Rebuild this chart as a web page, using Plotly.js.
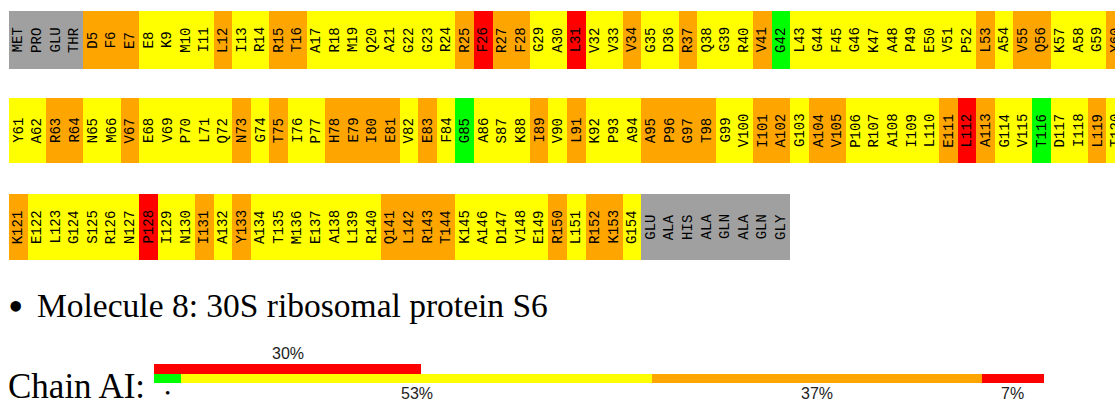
<!DOCTYPE html>
<html><head><meta charset="utf-8">
<script src="https://cdn.plot.ly/plotly-3.0.1.min.js"></script>
<style>html,body{margin:0;padding:0;background:#fff;overflow:hidden;width:1115px;height:409px}#chart{width:1140px;height:409px}</style>
</head><body><div id="chart"></div>
<script>
// ---- data ----
const row1Labels = ['MET','PRO','GLU','THR','D5','F6','E7','E8','K9','M10','I11','L12','I13','R14','R15','T16','A17','R18','M19','Q20','A21','G22','G23','R24','R25','F26','R27','F28','G29','A30','L31','V32','V33','V34','G35','D36','R37','Q38','G39','R40','V41','G42','L43','G44','F45','G46','K47','A48','P49','E50','V51','P52','L53','A54','V55','Q56','K57','A58','G59','Y60'];
const row1Quality = ['n','n','n','n','o','o','o','y','y','y','y','o','y','y','o','o','y','y','y','y','y','y','y','y','o','r','o','o','y','y','r','y','y','o','y','y','o','y','y','y','o','g','y','y','y','y','y','y','y','y','y','y','o','y','o','o','y','y','y','o'];
const row2Labels = ['Y61','A62','R63','R64','N65','M66','V67','E68','V69','P70','L71','Q72','N73','G74','T75','I76','P77','H78','E79','I80','E81','V82','E83','F84','G85','A86','S87','K88','I89','V90','L91','K92','P93','A94','A95','P96','G97','T98','G99','V100','I101','A102','G103','A104','V105','P106','R107','A108','I109','L110','E111','L112','A113','G114','V115','T116','D117','I118','L119','T120'];
const row2Quality = ['y','y','o','o','y','y','o','y','y','y','y','y','o','y','o','y','y','o','o','o','o','y','o','y','g','y','y','y','o','y','o','y','y','y','o','o','o','o','y','y','o','o','y','o','o','y','y','y','y','y','o','r','o','y','y','g','y','y','o','y'];
const row3Labels = ['K121','E122','L123','G124','S125','R126','N127','P128','I129','N130','I131','A132','Y133','A134','T135','M136','E137','A138','L139','R140','Q141','L142','R143','T144','K145','A146','D147','V148','E149','R150','L151','R152','K153','G154','GLU','ALA','HIS','ALA','GLN','ALA','GLN','GLY'];
const row3Quality = ['o','y','y','y','y','y','y','r','y','y','o','y','o','y','y','y','y','y','y','y','o','o','o','o','y','y','y','y','y','o','y','o','o','y','n','n','n','n','n','n','n','n'];

const chainSegments = ['green','yellow','orange','red'];
const chainSegmentValues = [3, 53, 37, 7];
const chainSegmentLabels = ['\u2022', '53%', '37%', '7%'];
const chainMissingValue = 30;
const chainMissingLabel = '30%';
const moleculeTitle = 'Molecule 8: 30S ribosomal protein S6';
const chainName = 'Chain AI:';

// ---- styles ----
const qualityColor = {n:'#A0A0A0', g:'#00FF00', y:'#FFFF00', o:'#FFA500', r:'#FF0000'};
const segColor = {green:'#00FF00', yellow:'#FFFF00', orange:'#FFA500', red:'#FF0000'};
const H = 409, W = 1140;
const cellW = 18.6, x0 = 9;
const monoFont = 'Courier, "Nimbus Mono PS", "Courier New", "Liberation Mono", monospace';
const serifFont = '"Liberation Serif", "Times New Roman", serif';
const sansFont = '"Liberation Sans", Arial, sans-serif';
function pyDomain(top, bottom){ return [1 - bottom/H, 1 - top/H]; }

const annotations = [];
function rowTrace(labels, quality, yax){
  labels.forEach((lab, i) => annotations.push({xref:'x', yref:yax, x:i, y:0.5, text:lab, textangle:-90,
    showarrow:false, xanchor:'center', yanchor:'middle', font:{family:monoFont, size:14, color:'#000'}}));
  return {
    type:'bar', x: labels.map((_, i) => i), y: labels.map(() => 1), width: 1,
    marker:{color: quality.map(q => qualityColor[q]), line:{width:0}},
    xaxis:'x', yaxis: yax, hoverinfo:'skip', showlegend:false, textposition:'none'
  };
}

const traces = [
  rowTrace(row1Labels, row1Quality, 'y'),
  rowTrace(row2Labels, row2Quality, 'y2'),
  rowTrace(row3Labels, row3Quality, 'y3'),
  {type:'bar', orientation:'h', x:[chainMissingValue], y:[1], width:1, base:0,
   marker:{color:'#FF0000', line:{width:0}}, xaxis:'x2', yaxis:'y4', hoverinfo:'skip', showlegend:false}
];
let cum = 0;
chainSegments.forEach((s, i) => {
  const v = chainSegmentValues[i];
  traces.push({type:'bar', orientation:'h', x:[v], y:[0], base:[cum], width:1,
    marker:{color:segColor[s], line:{width:0}}, xaxis:'x2', yaxis:'y4', hoverinfo:'skip', showlegend:false});
  annotations.push({xref:'x2', yref:'y4', x: cum + v/2, y:-0.5, yanchor:'top', showarrow:false,
    text: chainSegmentLabels[i], font:{family: i===0 ? serifFont : sansFont, size: i===0 ? 15 : 16, color: i===0 ? '#000' : '#222'}});
  cum += v;
});
annotations.push({xref:'x2', yref:'y4', x: chainMissingValue/2, y:1.5, yanchor:'bottom', showarrow:false,
  text: chainMissingLabel, font:{family:sansFont, size:16, color:'#222'}});
annotations.push({xref:'paper', yref:'paper', x: 15.5/W, y: 1-306/H, xanchor:'center', yanchor:'middle', showarrow:false,
  text:'\u2022', font:{family:serifFont, size:44, color:'#000'}});
annotations.push({xref:'paper', yref:'paper', x: 35/W, y: 1-305/H, xanchor:'left', yanchor:'middle', showarrow:false,
  text: moleculeTitle, font:{family:serifFont, size:33.5, color:'#000'}});
annotations.push({xref:'paper', yref:'paper', x: 6/W, y: 1-386/H, xanchor:'left', yanchor:'middle', showarrow:false,
  text: chainName, font:{family:serifFont, size:35, color:'#000'}});

const hidden = {visible:false, fixedrange:true};
const layout = {
  width:W, height:H, margin:{l:0,r:0,t:0,b:0}, paper_bgcolor:'#fff', plot_bgcolor:'rgba(0,0,0,0)',
  barmode:'overlay', bargap:0, showlegend:false,
  xaxis: Object.assign({domain:[0,1], range:[-x0/cellW - 0.5, (W - x0)/cellW - 0.5]}, hidden),
  yaxis: Object.assign({domain: pyDomain(11, 69), range:[0,1]}, hidden),
  yaxis2: Object.assign({domain: pyDomain(98, 163), range:[0,1]}, hidden),
  yaxis3: Object.assign({domain: pyDomain(194, 260), range:[0,1]}, hidden),
  xaxis2: Object.assign({domain:[154/W, 1044/W], range:[0,100], anchor:'y4'}, hidden),
  yaxis4: Object.assign({domain: pyDomain(364, 383), range:[-0.5,1.5], anchor:'x2'}, hidden),
  annotations: annotations
};
Plotly.newPlot('chart', traces, layout, {staticPlot:true, displayModeBar:false});
</script></body></html>
